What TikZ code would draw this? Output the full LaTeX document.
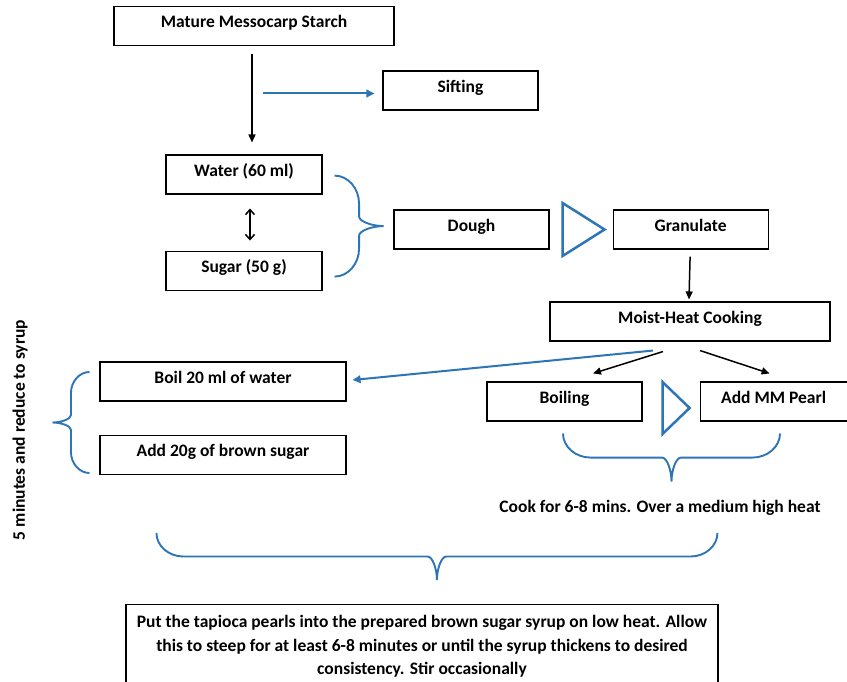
\documentclass[tikz,border=0pt]{standalone}
\usepackage{fontspec}
\setmainfont{Carlito}
\usetikzlibrary{arrows.meta,positioning}
\usetikzlibrary{calc}
\definecolor{office_blue}{HTML}{2E75B6}

% curly brace from (0,0) to (2L,0), bulging by depth h
\newcommand{\wordbrace}[3]{%
  \draw[bracestyle, #1] (0,0) .. controls (0,0.275*#3) and (0.26*#3,0.5*#3) .. (0.57*#3,0.5*#3)
    -- (#2-0.2*#3,0.5*#3) .. controls (#2-0.09*#3,0.5*#3) and (#2,0.775*#3) .. (#2,#3)
    .. controls (#2,0.775*#3) and (#2+0.09*#3,0.5*#3) .. (#2+0.2*#3,0.5*#3)
    -- (2*#2-0.57*#3,0.5*#3) .. controls (2*#2-0.26*#3,0.5*#3) and (2*#2,0.275*#3) .. (2*#2,0);}

\begin{document}
\begin{tikzpicture}[
	    x=1pt, y=-1pt,
	    onlytext/.style={align=center, font=\bfseries\fontsize{17.5}{21}\selectfont},
	    stepbox/.style={rectangle, draw, line width=1.1pt, minimum height=39pt, inner sep=0pt,
	        text height=11.5pt, text depth=7.5pt, font=\bfseries\fontsize{17.5}{21}\selectfont},
	    blackarrow/.style={-{Triangle[length=8pt,width=7pt]}, line width=1.5pt},
	    bluearrow/.style={-{Triangle[length=8pt,width=7.5pt]}, line width=2pt, office_blue},
	    bracestyle/.style={office_blue, line width=1.9pt},
	    marker/.style={office_blue, line width=2.5pt},
	]
	\path[use as bounding box, fill=white] (0,0) rectangle (847,682);

	\node[stepbox, minimum width=280pt] (starch) at (254,26) {Mature Messocarp Starch};
	\node[stepbox, minimum width=155pt] (sifting) at (460.5,90.5) {Sifting};
	\node[stepbox, minimum width=156pt] (water) at (244,174.5) {Water (60 ml)};
	\node[stepbox, minimum width=156pt, below=56pt of water] (sugar) {Sugar (50 g)};

	\draw [blackarrow] ([xshift=-2pt,yshift=-8pt]starch.south) -- ([xshift=8pt,yshift=12pt]water.north);
	\draw [bluearrow] ([xshift=-119pt,yshift=-3pt]sifting.west) -- ([xshift=-8pt,yshift=-3pt]sifting.west);
	\draw [{Straight Barb[length=5pt,width=9pt]}-{Straight Barb[length=5pt,width=9pt]}, line width=1.5pt]
	    ([xshift=6pt,yshift=-14pt]water.south) -- ([xshift=6pt,yshift=10pt]sugar.north);

	% ------------ Dough
	\node[stepbox, minimum width=155pt] (dough) at (471.5,229.5) {Dough};
	\node[stepbox, minimum width=155pt, right=63pt of dough] (granulate) {Granulate};
	\wordbrace{shift={([xshift=12pt,yshift=-6pt]sugar.east)}, rotate=90}{50.5}{49}
	\draw [marker] ($(dough.east)+(13,-26.5)$) -- ($(dough.east)+(55,0)$) -- ($(dough.east)+(13,26.5)$) -- cycle;

	% ------------ Cooking
	\node[stepbox, minimum width=280pt] (cooking) at (690,321.5) {Moist-Heat Cooking};
	\node[stepbox, minimum width=155pt] (boiling) at (564.5,401.5) {Boiling};
	\node[stepbox, minimum width=147pt, right=57pt of boiling] (pearl) {Add MM Pearl};
	\draw [marker] ($(boiling.east)+(20,-19.5)$) -- ($(boiling.east)+(47,6.5)$) -- ($(boiling.east)+(20,32.5)$) -- cycle;

	\draw [blackarrow] ([xshift=-0.5pt,yshift=-7pt]granulate.south) -- ([xshift=-1pt,yshift=2pt]cooking.north);
	\draw [blackarrow] ([xshift=-27pt,yshift=-10pt]cooking.south) -- ([xshift=28.5pt,yshift=8pt]boiling.north);
	\draw [blackarrow] ([xshift=10pt,yshift=-9pt]cooking.south) -- ([xshift=-4pt,yshift=8pt]pearl.north);

	\wordbrace{shift={([xshift=-1.5pt,yshift=-12pt]boiling.south)}}{108.5}{48}
	\node[onlytext] (cooklabel) at (660,508) {Cook for 6-8 mins. Over a medium high heat};

	% ------------ Syrup
	\node[stepbox, minimum width=246pt] (boilwater) at (223,381.5) {Boil 20 ml of water};
	\node[stepbox, minimum width=246pt, below=33pt of boilwater] (brownsugar) {Add 20g of brown sugar};
	\draw [bluearrow] ([xshift=-37pt,yshift=-9pt]cooking.south) -- ([xshift=6pt,yshift=1.5pt]boilwater.east);
	\wordbrace{shift={([xshift=-10pt,yshift=9.5pt]boilwater.west)}, rotate=-90}{50.5}{37}
	\node[onlytext, rotate=90] (syruplabel) at (20,430) {5 minutes and reduce to syrup};

	% ------------ Steep
	\node[rectangle, draw, line width=1.1pt, minimum width=592pt, minimum height=84pt, anchor=north,
	    align=center, font=\bfseries\fontsize{17.5}{23.5}\selectfont] (steep) at (422,604)
	    {Put the tapioca pearls into the prepared brown sugar syrup on low heat. Allow\\
	     this to steep for at least 6-8 minutes or until the syrup thickens to desired\\
	     consistency. Stir occasionally};
	\wordbrace{shift={([xshift=31pt,yshift=71pt]steep.north west)}}{280.5}{47}

	\end{tikzpicture}
\end{document}
